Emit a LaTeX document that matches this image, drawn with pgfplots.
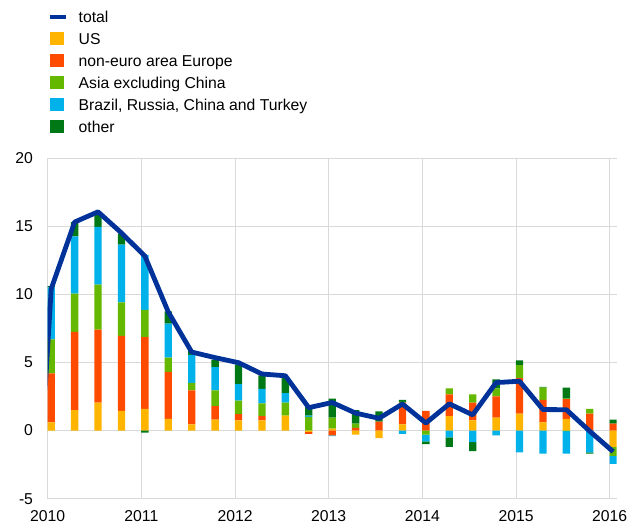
\documentclass[border=0pt]{standalone}
\usepackage{fontspec}
\setmainfont{Liberation Sans}
\usepackage{pgfplots}
\pgfplotsset{compat=1.18}
\usepackage{pgfplotstable}

\definecolor{ctotal}{HTML}{003299}
\definecolor{cus}{HTML}{FFB400}
\definecolor{ceu}{HTML}{FF4B00}
\definecolor{casia}{HTML}{65B800}
\definecolor{cbrct}{HTML}{00B1EA}
\definecolor{coth}{HTML}{007816}
\definecolor{cgrid}{HTML}{D9D9D9}

% positive contributions
\pgfplotstableread{
x us eu asia brct oth
2010.0375 0.6 3.6 2.5 3.8 0.1
2010.2875 1.5 5.75 2.8 4.2 1.05
2010.5375 2.05 5.35 3.3 4.25 0.95
2010.7875 1.45 5.5 2.45 4.25 0.8
2011.0375 1.6 5.25 2.0 4.05 0
2011.2875 0.85 3.45 1.05 2.5 0.9
2011.5375 0.45 2.5 0.55 2.05 0.3
2011.7875 0.8 1.0 1.15 1.7 0.55
2012.0375 0.75 0.45 1.0 1.2 1.45
2012.2875 0.75 0.3 0.95 1.05 1.0
2012.5375 1.1 0 0.95 0.7 1.1
2012.7875 0 0 1.0 0.1 0.7
2013.0375 0.15 0 0.8 0 1.4
2013.2875 0 0.2 0.3 0 1.0
2013.5375 0 0.65 0 0 0.75
2013.7875 0.45 1.6 0.05 0 0.15
2014.0375 0 1.45 0 0 0
2014.2875 1.05 1.6 0.45 0 0
2014.5375 0.75 1.3 0.6 0 0
2014.7875 0.95 1.55 0.6 0 0.65
2015.0375 1.25 2.6 0.95 0 0.35
2015.2875 0.6 1.65 0.9 0 0.05
2015.5375 0.85 1.45 0.05 0 0.8
2015.7875 0 1.25 0.35 0 0
2016.0375 0 0.5 0 0 0.3
}\postab

% negative contributions
\pgfplotstableread{
x us eu asia brct oth
2011.0375 0 0 0 0 -0.15
2012.7875 -0.1 -0.15 0 0 0
2013.0375 0 -0.35 0 -0.05 0
2013.2875 -0.3 0 0 0 0
2013.5375 -0.55 0 0 0 0
2013.7875 0 0 0 -0.25 0
2014.0375 0 0 -0.3 -0.5 -0.2
2014.2875 0 0 0 -0.5 -0.7
2014.5375 0 0 0 -0.85 -0.65
2014.7875 0 0 0 -0.35 0
2015.0375 0 0 0 -1.6 0
2015.2875 0 0 0 -1.7 0
2015.5375 0 0 -0.05 -1.65 0
2015.7875 0 0 0 -1.6 -0.1
2016.0375 -1.2 0 -0.65 -0.6 0
}\negtab

% total
\pgfplotstableread{
x t
2009.7875 -18
2010.0375 10.4
2010.2875 15.3
2010.5375 16.05
2010.7875 14.5
2011.0375 12.8
2011.2875 8.7
2011.5375 5.76
2011.7875 5.35
2012.0375 4.98
2012.2875 4.15
2012.5375 4.02
2012.7875 1.68
2013.0375 2.06
2013.2875 1.28
2013.5375 0.9
2013.7875 1.95
2014.0375 0.55
2014.2875 1.96
2014.5375 1.15
2014.7875 3.52
2015.0375 3.62
2015.2875 1.54
2015.5375 1.53
2015.7875 -0.05
2016.0375 -1.55
}\tottab

\pgfplotsset{
  base/.style={
    scale only axis, width=569bp, height=340.7bp,
    xmin=2010, xmax=2016.075, ymin=-5, ymax=20,
    at={(0bp,0bp)}, anchor=south west,
  },
  barsty/.style={fill=#1, draw=none, bar width=7.3bp, bar shift=0pt,
    legend image code/.code={\fill[##1] (0bp,-6.5bp) rectangle (14bp,6.5bp);}},
  totlegend/.style={ctotal, line width=4bp,
    legend image code/.code={\draw[##1] (0bp,0bp) -- (16bp,0bp);}},
}

\begin{document}
\begin{tikzpicture}
\path[use as bounding box] (-47.7bp,-25.3bp) rectangle (582.3bp,498.7bp);
\begin{axis}[base, ybar stacked,
  xtick={2010,2011,...,2016}, ytick={-5,0,5,10,15,20},
  grid=major, grid style={cgrid, line width=0.8bp},
  axis line style={draw=none}, major tick length=0pt,
  /pgf/number format/assume math mode=true,
  /pgf/number format/1000 sep={},
  tick label style={font=\fontsize{15.8}{18}\selectfont},
  xticklabel style={inner sep=0pt, anchor=north, yshift=-12bp},
  yticklabel style={inner sep=0pt, anchor=east, xshift=-14.5bp},
  legend cell align=left,
  legend style={at={(0,1.4462)}, anchor=north west, draw=none, fill=none,
    inner sep=0pt, outer sep=0pt, row sep=0pt, column sep=11bp,
    font=\fontsize{15.8}{18}\selectfont,
    nodes={inner sep=0pt, text height=16.5bp, text depth=5.5bp}},
]
\addlegendimage{totlegend}
\addlegendentry{total}
\addplot[barsty=cus] table[x=x,y=us]{\postab};
\addlegendentry{US}
\addplot[barsty=ceu] table[x=x,y=eu]{\postab};
\addlegendentry{non-euro area Europe}
\addplot[barsty=casia] table[x=x,y=asia]{\postab};
\addlegendentry{Asia excluding China}
\addplot[barsty=cbrct] table[x=x,y=brct]{\postab};
\addlegendentry{Brazil, Russia, China and Turkey}
\addplot[barsty=coth] table[x=x,y=oth]{\postab};
\addlegendentry{other}
\end{axis}
\begin{axis}[base, ybar stacked, hide axis]
\addplot[barsty=cus] table[x=x,y=us]{\negtab};
\addplot[barsty=ceu] table[x=x,y=eu]{\negtab};
\addplot[barsty=casia] table[x=x,y=asia]{\negtab};
\addplot[barsty=cbrct] table[x=x,y=brct]{\negtab};
\addplot[barsty=coth] table[x=x,y=oth]{\negtab};
\end{axis}
\begin{axis}[base, hide axis]
\addplot[ctotal, line width=4.8bp, line join=round, no marks] table[x=x,y=t]{\tottab};
\end{axis}
\end{tikzpicture}
\end{document}
